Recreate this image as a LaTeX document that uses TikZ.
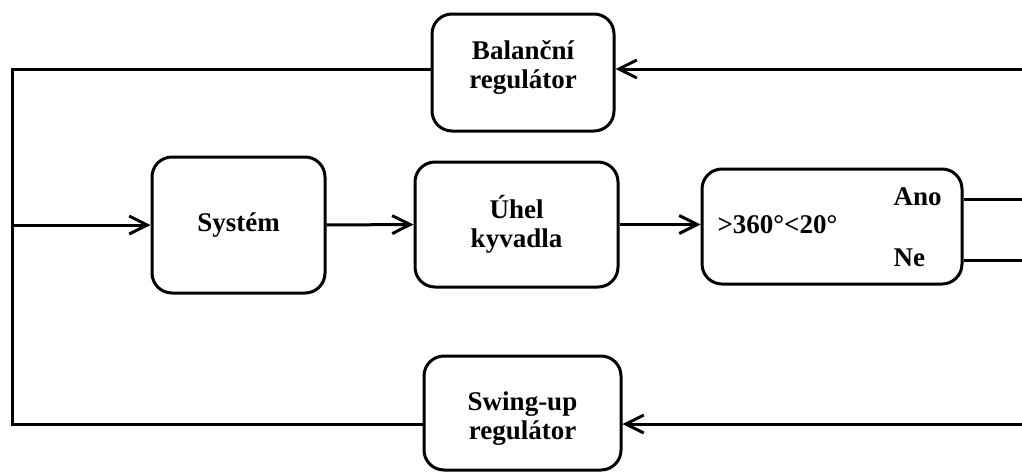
\documentclass[tikz,border=0pt]{standalone}
\usepackage{fontspec}
\setmainfont{Liberation Serif}
\usetikzlibrary{arrows.meta}
\begin{document}
\begin{tikzpicture}[x=1pt,y=-1pt,line width=3pt,
		box/.style={draw,rounded corners=20pt,align=center,font=\bfseries\fontsize{27}{29}\selectfont},
		txt/.style={anchor=base west,inner sep=0pt,font=\bfseries\fontsize{27}{29}\selectfont},
		arr/.style={-{Straight Barb[length=18pt,width=18pt]}}]
			\useasboundingbox (0,0) rectangle (1022,471);
			\node[box,minimum width=182,minimum height=117,text depth=16pt] (bal) at (523,72.5) {Balanční\\regulátor};
			\node[box,minimum width=173,minimum height=136] (sys) at (238.5,225) {Systém};
			\node[box,minimum width=203,minimum height=125] (uhel) at (516.5,224.5) {Úhel\\kyvadla};
			\node[box,minimum width=260,minimum height=115] (dec) at (832,226.5) {};
			\node[box,minimum width=197,minimum height=114,text height=58pt] (swing) at (522.5,413) {Swing-up\\regulátor};
			\node[txt] (cond) at (716,233) {>360°<20°};
			\node[txt] (ano) at (892,205) {Ano};
			\node[txt] (ne) at (892,266) {Ne};
			\coordinate (LT) at (12,69);
			\coordinate (LM) at (12,225);
			\coordinate (LB) at (12,424);
			\coordinate (RT) at (1022,69);
			\coordinate (RB) at (1022,424);
			\coordinate (RA) at (1022,199);
			\coordinate (RN) at (1022,260);
			\draw (LT -| bal.west) -- (LT) -- (LB) -- (LB -| swing.west);
			\draw[arr] (LM) -- (sys.west);
			\draw[arr] (sys.east) -- (uhel.west);
			\draw[arr] (uhel.east) -- (uhel.east -| dec.west);
			\draw (RA -| dec.east) -- (RA);
			\draw (RN -| dec.east) -- (RN);
			\draw[arr] (RT) -- (RT -| bal.east);
			\draw[arr] (RB) -- (RB -| swing.east);
		\end{tikzpicture}
\end{document}
